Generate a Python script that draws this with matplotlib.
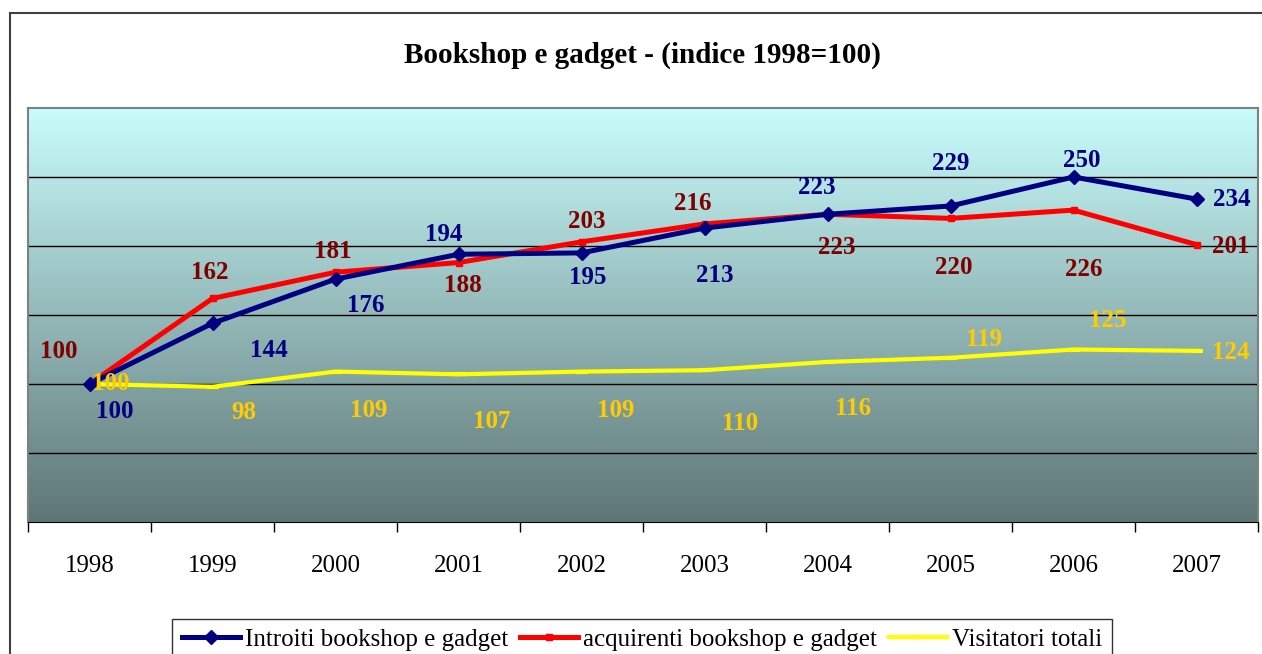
import matplotlib.pyplot as plt
import numpy as np
from matplotlib.patches import Rectangle

# data
anni = ['1998', '1999', '2000', '2001', '2002', '2003', '2004', '2005', '2006', '2007']
introiti = [100, 144, 176, 194, 195, 213, 223, 229, 250, 234]
acquirenti = [100, 162, 181, 188, 203, 216, 223, 220, 226, 201]
visitatori = [100, 98, 109, 107, 109, 110, 116, 119, 125, 124]

# label offsets in pixels (dx, dy up)
off_intr = [(25, -27), (56, -27), (30, -26), (-15, 20), (6, -25), (10, -47), (-11, 27), (0, 42), (8, 16), (35, 0)]
off_acq = [(-31, 33), (-3, 26), (-3, 21), (4, -23), (5, 20), (-12, 20), (9, -33), (3, -49), (10, -59), (34, -2)]
off_vis = [(21, 0), (31, -26), (33, -39), (33, -47), (34, -39), (36, -53), (26, -47), (34, 18), (34, 29), (34, -2)]

plt.rcParams['font.family'] = 'Liberation Serif'

fig = plt.figure(figsize=(12.62, 6.54), dpi=100)
ax = fig.add_axes([28/1262, 1-522/654, 1230/1262, 414/654])

x = np.arange(len(anni))

# gradient background
grad = np.linspace(0, 1, 256).reshape(-1, 1)
top = np.array([0.79, 0.99, 0.99])
bot = np.array([0.37, 0.46, 0.46])
img = top + (bot - top) * grad[:, :, None]
ax.imshow(img, extent=[-0.5, 9.5, 0, 300], aspect='auto', zorder=0)

ax.set_xlim(-0.5, 9.5)
ax.set_ylim(0, 300)
for yv in [50, 100, 150, 200, 250]:
    ax.axhline(yv, color='black', lw=1, zorder=1)

l1, = ax.plot(x, introiti, color='#000080', lw=3.6, marker='D', ms=7, zorder=4)
l2, = ax.plot(x, acquirenti, color='#ff0000', lw=3.6, marker='s', ms=5, zorder=3)
l3, = ax.plot(x, visitatori, color='#ffff00', lw=3, marker='_', ms=8, mew=3, zorder=2)

def labels(vals, offs, col):
    for i, (v, o) in enumerate(zip(vals, offs)):
        ax.annotate(str(v), (i, v), xytext=o, textcoords='offset pixels',
                    ha='center', va='center', color=col, fontsize=18,
                    fontweight='bold', zorder=6)

labels(introiti, off_intr, '#000080')
labels(acquirenti, off_acq, '#800000')
labels(visitatori, off_vis, '#ffcc00')

ax.set_yticks([])
ax.set_xticks(x)
ax.set_xticklabels(anni, fontsize=18)
ax.set_xticks(np.arange(-0.5, 10, 1), minor=True)
ax.tick_params(axis='x', which='major', length=0, pad=24)
ax.tick_params(axis='x', which='minor', length=7, width=1, color='black')
for s in ['left', 'top', 'right']:
    ax.spines[s].set_color('#808080')
    ax.spines[s].set_linewidth(1.5)
ax.spines['bottom'].set_color('black')

fig.text(642/1262, 1-55/654, 'Bookshop e gadget - (indice 1998=100)',
         ha='center', va='center', fontsize=21, fontweight='bold')

# outer frame
fig.patches.append(Rectangle((10/1262, -0.1), 1.1, 1-13/654+0.1,
                             transform=fig.transFigure, fill=False,
                             edgecolor='#404040', lw=1.5))

fig.legend([l1, l2, l3], ['Introiti bookshop e gadget', 'acquirenti bookshop e gadget', 'Visitatori totali'],
           loc='upper center', bbox_to_anchor=(642/1262, 1-606/654), ncol=3,
           fontsize=18, frameon=True, fancybox=False, edgecolor='black',
           handlelength=2.3, columnspacing=0.5, handletextpad=0.2, borderpad=0.4)

fig.savefig('out.png', dpi=100)
